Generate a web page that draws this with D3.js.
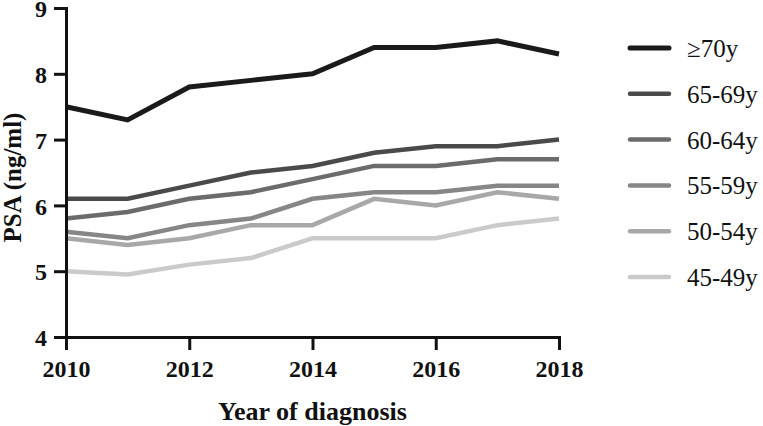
<!DOCTYPE html>
<html>
<head>
<meta charset="utf-8">
<title>PSA by age group</title>
<script src="https://d3js.org/d3.v7.min.js"></script>
<style>
  body { margin: 0; background: #fff; }
</style>
</head>
<body>
<div id="chart"></div>
<script>
/* global d3 */

const years = [2010, 2011, 2012, 2013, 2014, 2015, 2016, 2017, 2018];
const groups = ['≥70y', '65-69y', '60-64y', '55-59y', '50-54y', '45-49y'];
const age70 = [7.5, 7.3, 7.8, 7.9, 8.0, 8.4, 8.4, 8.5, 8.3];
const age65 = [6.1, 6.1, 6.3, 6.5, 6.6, 6.8, 6.9, 6.9, 7.0];
const age60 = [5.8, 5.9, 6.1, 6.2, 6.4, 6.6, 6.6, 6.7, 6.7];
const age55 = [5.6, 5.5, 5.7, 5.8, 6.1, 6.2, 6.2, 6.3, 6.3];
const age50 = [5.5, 5.4, 5.5, 5.7, 5.7, 6.1, 6.0, 6.2, 6.1];
const age45 = [5.0, 4.95, 5.1, 5.2, 5.5, 5.5, 5.5, 5.7, 5.8];
const xTicks = [2010, 2012, 2014, 2016, 2018];
const yTicks = [4, 5, 6, 7, 8, 9];

const seriesValues = [age70, age65, age60, age55, age50, age45];
const colors = ['#1a1a1a', '#4a4a4a', '#6b6b6b', '#868686', '#a8a8a8', '#cacaca'];
const widths = [5, 4.5, 4.5, 4.5, 4.5, 4.5];
const serif = '"Liberation Serif", "Times New Roman", serif';

const width = 763, height = 426;
const margin = { top: 8, left: 66 };
const plotW = 559 - 66, plotH = 337 - 8;

const svg = d3.select('#chart')
  .append('svg')
    .attr('width', width)
    .attr('height', height);

const x = d3.scaleLinear().domain([2010, 2018]).range([margin.left, margin.left + plotW]);
const y = d3.scaleLinear().domain([4, 9]).range([margin.top + plotH, margin.top]);

const line = d3.line()
  .x((d, i) => x(years[i]))
  .y(d => y(d));

// lightest first so the darker lines sit on top
for (let k = seriesValues.length - 1; k >= 0; k--) {
  svg.append('path')
    .datum(seriesValues[k])
    .attr('fill', 'none')
    .attr('stroke', colors[k])
    .attr('stroke-width', widths[k])
    .attr('d', line);
}

// axes
const xAxis = svg.append('g')
  .attr('transform', `translate(0, ${y(4)})`)
  .call(d3.axisBottom(x).tickValues(xTicks).tickFormat(d3.format('d'))
    .tickSizeInner(13).tickSizeOuter(0).tickPadding(10));

const yAxis = svg.append('g')
  .attr('transform', `translate(${x(2010)}, 0)`)
  .call(d3.axisLeft(y).tickValues(yTicks).tickFormat(d3.format('d'))
    .tickSizeInner(12).tickSizeOuter(0).tickPadding(7));

[xAxis, yAxis].forEach(ax => {
  ax.attr('font-family', serif);
  ax.select('.domain').attr('stroke', '#111').attr('stroke-width', 3).attr('stroke-linecap', 'square');
  ax.selectAll('.tick line').attr('stroke', '#111').attr('stroke-width', 3);
  ax.selectAll('.tick text')
    .attr('fill', '#111')
    .style('font-family', serif)
    .style('font-weight', 'bold')
    .style('font-size', '24px');
});
yAxis.selectAll('.tick text').attr('dy', '0.36em');

// axis titles
svg.append('text')
  .attr('x', (x(2010) + x(2018)) / 2)
  .attr('y', 420)
  .attr('text-anchor', 'middle')
  .style('font-family', serif)
  .style('font-weight', 'bold')
  .style('font-size', '26px')
  .attr('fill', '#111')
  .text('Year of diagnosis');

svg.append('text')
  .attr('transform', `translate(21, ${(y(4) + y(9)) / 2 + 5}) rotate(-90)`)
  .attr('text-anchor', 'middle')
  .style('font-family', serif)
  .style('font-weight', 'bold')
  .style('font-size', '25px')
  .attr('fill', '#111')
  .text('PSA (ng/ml)');

// legend
const legend = svg.append('g').attr('transform', 'translate(630, 48)');
groups.forEach((g, i) => {
  const row = legend.append('g').attr('transform', `translate(0, ${i * 45.8})`);
  row.append('line')
    .attr('x1', 0).attr('x2', 39)
    .attr('stroke', colors[i])
    .attr('stroke-width', widths[i])
    .attr('stroke-linecap', 'round');
  row.append('text')
    .attr('x', 57)
    .attr('y', 9)
    .style('font-family', serif)
    .style('font-size', '25px')
    .attr('fill', '#111')
    .text(g);
});
</script>
</body>
</html>
